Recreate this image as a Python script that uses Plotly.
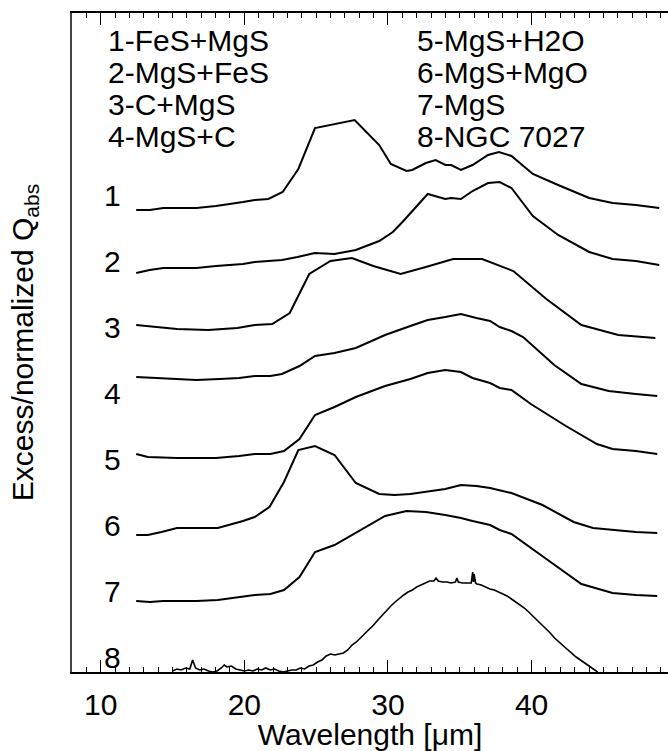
import plotly.graph_objects as go

# ---- data (wavelength in micron, stacked excess / normalized Q_abs) ----
lam1 = [12.47, 13.41, 14.36, 15.31, 16.66, 18.02, 19.10, 19.91, 20.72, 21.67, 22.67, 23.76, 24.92, 27.68,
        29.39, 30.20, 31.29, 31.69, 32.64, 33.32, 34.00, 34.40, 35.08, 35.89, 36.97, 37.73, 38.60, 40.09,
        41.85, 44.01, 45.64, 47.26, 48.89]
q1 = [4.62, 4.62, 4.64, 4.64, 4.64, 4.66, 4.68, 4.70, 4.72, 4.73, 4.80, 5.03, 5.44, 5.52,
      5.27, 5.08, 5.01, 5.02, 5.09, 5.12, 5.07, 5.07, 5.02, 5.07, 5.17, 5.20, 5.16, 4.98,
      4.87, 4.74, 4.69, 4.67, 4.64]

lam2 = [12.47, 13.41, 14.36, 15.31, 16.66, 18.02, 19.10, 19.91, 20.72, 21.81, 22.62, 23.70, 24.92, 26.28,
        27.76, 29.39, 30.34, 31.01, 31.83, 32.77, 33.99, 34.40, 35.08, 35.89, 36.97, 37.78, 38.60, 40.09,
        41.85, 44.01, 45.64, 47.26, 48.89]
q2 = [3.99, 4.02, 4.04, 4.04, 4.04, 4.06, 4.07, 4.08, 4.10, 4.11, 4.12, 4.15, 4.19, 4.18,
      4.22, 4.31, 4.40, 4.50, 4.63, 4.78, 4.73, 4.74, 4.73, 4.81, 4.89, 4.90, 4.84, 4.56,
      4.37, 4.20, 4.13, 4.11, 4.07]

lam3 = [12.47, 13.69, 15.31, 17.48, 18.29, 19.51, 20.72, 21.94, 23.16, 24.30, 24.52, 26.00, 27.49, 28.98,
        30.88, 32.64, 34.54, 36.56, 38.73, 41.03, 43.47, 46.04, 48.62]
q3 = [3.47, 3.45, 3.43, 3.42, 3.43, 3.44, 3.47, 3.48, 3.59, 3.92, 3.98, 4.11, 4.14, 4.06,
      3.98, 4.05, 4.13, 4.13, 4.01, 3.73, 3.47, 3.37, 3.34]

lam4 = [12.47, 13.69, 15.31, 16.66, 18.29, 19.64, 20.72, 21.81, 22.62, 23.84, 24.92, 26.28, 27.76, 29.80,
        31.56, 32.77, 33.99, 35.08, 36.16, 37.11, 37.78, 38.60, 39.41, 41.58, 43.47, 45.37, 47.26, 48.75]
q4 = [2.95, 2.94, 2.93, 2.92, 2.93, 2.94, 2.96, 2.96, 2.98, 3.06, 3.16, 3.19, 3.24, 3.37,
      3.46, 3.52, 3.55, 3.58, 3.54, 3.51, 3.45, 3.41, 3.35, 3.07, 2.88, 2.81, 2.78, 2.76]

lam5 = [12.47, 13.28, 15.31, 18.02, 19.64, 20.72, 21.81, 22.76, 23.84, 24.92, 26.28, 27.76, 29.80, 31.56,
        32.77, 33.99, 35.08, 35.89, 37.11, 37.78, 38.60, 39.95, 42.39, 43.47, 44.55, 45.64, 47.26, 48.75]
q5 = [2.18, 2.15, 2.14, 2.14, 2.16, 2.18, 2.18, 2.21, 2.33, 2.57, 2.65, 2.75, 2.86, 2.93,
      2.99, 3.02, 3.00, 2.94, 2.89, 2.84, 2.82, 2.68, 2.46, 2.37, 2.28, 2.23, 2.21, 2.18]

lam6 = [12.47, 13.28, 14.23, 15.31, 16.66, 18.15, 19.91, 20.72, 21.75, 22.76, 23.76, 24.92, 26.28, 27.76,
        29.39, 30.47, 31.56, 32.64, 33.99, 35.08, 36.16, 37.11, 38.60, 40.76, 42.93, 44.28, 45.64, 47.26, 48.75]
q6 = [1.37, 1.37, 1.40, 1.44, 1.44, 1.44, 1.51, 1.55, 1.65, 1.90, 2.22, 2.26, 2.17, 1.89,
      1.78, 1.77, 1.78, 1.80, 1.83, 1.87, 1.86, 1.84, 1.79, 1.67, 1.50, 1.44, 1.42, 1.40, 1.39]

lam7 = [12.47, 13.41, 14.36, 15.31, 16.66, 18.15, 19.91, 20.72, 21.81, 22.76, 23.84, 24.92, 26.28, 27.76,
        29.80, 31.29, 32.64, 33.99, 35.08, 35.89, 37.11, 37.78, 38.60, 41.03, 43.47, 45.64, 47.26, 48.75]
q7 = [0.71, 0.70, 0.71, 0.71, 0.71, 0.72, 0.75, 0.77, 0.78, 0.82, 0.95, 1.20, 1.27, 1.39,
      1.56, 1.61, 1.60, 1.57, 1.54, 1.51, 1.47, 1.42, 1.38, 1.13, 0.88, 0.79, 0.77, 0.76]

lam8 = [15.0, 15.3, 15.6, 15.9, 16.2, 16.4, 16.6, 16.9, 17.2, 17.5, 17.8, 18.1, 18.4, 18.6, 18.8, 19.1,
        19.4, 19.7, 20.0, 20.3, 20.6, 20.9, 21.2, 21.5, 21.8, 22.1, 22.4, 22.7, 23.0, 23.3, 23.6, 23.9,
        24.2, 24.5, 24.8, 25.1, 25.4, 25.7, 26.0, 26.3, 26.6, 26.9, 27.2, 27.5, 27.8, 28.1, 28.4, 28.7,
        29.0, 29.3, 29.6, 29.9, 30.2, 30.5, 30.8, 31.1, 31.4, 31.7, 32.0, 32.3, 32.6, 32.9, 33.2, 33.35,
        33.5, 33.8, 34.1, 34.4, 34.7, 34.8, 34.9, 35.2, 35.5, 35.8, 35.9, 35.95, 36.0, 36.1, 36.2, 36.5,
        36.8, 37.1, 37.4, 37.7, 38.0, 38.3, 38.6, 38.9, 39.2, 39.5, 39.8, 40.1, 40.4, 40.7, 41.0, 41.3,
        41.6, 41.9, 42.2, 42.5, 42.8, 43.1, 43.4, 43.7, 44.0, 44.3, 44.6]
q8 = [0.01, 0.03, 0.02, 0.04, 0.03, 0.12, 0.04, 0.02, 0.03, 0.01, 0.00, 0.01, 0.04, 0.07, 0.05, 0.06,
      0.03, 0.02, 0.01, 0.02, 0.01, 0.03, 0.02, 0.04, 0.02, 0.03, 0.01, 0.00, 0.01, 0.02, 0.02, 0.04,
      0.03, 0.06, 0.07, 0.10, 0.12, 0.16, 0.18, 0.17, 0.18, 0.19, 0.22, 0.27, 0.30, 0.34, 0.38, 0.43,
      0.47, 0.52, 0.57, 0.61, 0.66, 0.70, 0.74, 0.77, 0.80, 0.82, 0.85, 0.87, 0.89, 0.91, 0.91, 0.94,
      0.91, 0.90, 0.90, 0.89, 0.90, 0.94, 0.90, 0.89, 0.89, 0.89, 1.00, 0.90, 0.98, 0.89, 0.88, 0.87,
      0.85, 0.83, 0.82, 0.80, 0.78, 0.76, 0.73, 0.70, 0.67, 0.64, 0.60, 0.56, 0.52, 0.48, 0.43, 0.39,
      0.34, 0.30, 0.26, 0.22, 0.18, 0.15, 0.12, 0.09, 0.06, 0.03, 0.00]

curve_numbers = ["1", "2", "3", "4", "5", "6", "7", "8"]
curve_number_y = [4.77, 4.11, 3.45, 2.79, 2.13, 1.47, 0.81, 0.15]
legend_left = ["1-FeS+MgS", "2-MgS+FeS", "3-C+MgS", "4-MgS+C"]
legend_right = ["5-MgS+H2O", "6-MgS+MgO", "7-MgS", "8-NGC 7027"]
legend_y = [6.32, 6.00, 5.68, 5.36]

FONT = "Liberation Sans, Arial, Helvetica, sans-serif"
FS = 30

fig = go.Figure()
series = [(lam1, q1, 2), (lam2, q2, 2), (lam3, q3, 2), (lam4, q4, 2),
          (lam5, q5, 2), (lam6, q6, 2), (lam7, q7, 2), (lam8, q8, 1.6)]
for lam, q, w in series:
    fig.add_trace(go.Scatter(x=lam, y=q, mode="lines", showlegend=False,
                             line=dict(color="black", width=w)))

ann = []
for t, yv in zip(curve_numbers, curve_number_y):
    ann.append(dict(x=10.8, y=yv, xref="x", yref="y", text=t, showarrow=False,
                    xanchor="center", yanchor="middle", font=dict(size=FS, color="black", family=FONT)))
for t, yv in zip(legend_left, legend_y):
    ann.append(dict(x=10.4, y=yv, xref="x", yref="y", text=t, showarrow=False,
                    xanchor="left", yanchor="middle", font=dict(size=FS, color="black", family=FONT)))
for t, yv in zip(legend_right, legend_y):
    ann.append(dict(x=31.85, y=yv, xref="x", yref="y", text=t, showarrow=False,
                    xanchor="left", yanchor="middle", font=dict(size=FS, color="black", family=FONT)))

fig.update_layout(
    width=668, height=751,
    margin=dict(l=72, r=0, t=13, b=79),
    paper_bgcolor="white", plot_bgcolor="white",
    font=dict(family=FONT, size=FS, color="black"),
    annotations=ann,
    xaxis=dict(range=[8, 49.5], showgrid=False, zeroline=False,
               showline=True, linecolor="black", linewidth=2, mirror="ticks",
               ticks="inside", tickvals=[10, 20, 30, 40], ticklen=12, tickwidth=1.2, tickcolor="black",
               minor=dict(dtick=1, tick0=0, ticks="inside", ticklen=5, tickwidth=1.2, tickcolor="black"),
               tickfont=dict(size=FS, family=FONT, color="black"),
               ticklabelstandoff=5,
               title=dict(text="Wavelength [\u03bcm]", font=dict(size=FS, family=FONT, color="black"),
                          standoff=0)),
    yaxis=dict(range=[0, 6.59], showgrid=False, zeroline=False,
               showline=True, linecolor="#444", linewidth=1.5, mirror=False,
               ticks="", showticklabels=False,
               title=dict(text="Excess/normalized Q<sub>abs</sub>",
                          font=dict(size=FS, family=FONT, color="black"), standoff=28)),
)

fig.write_html("out.html")
